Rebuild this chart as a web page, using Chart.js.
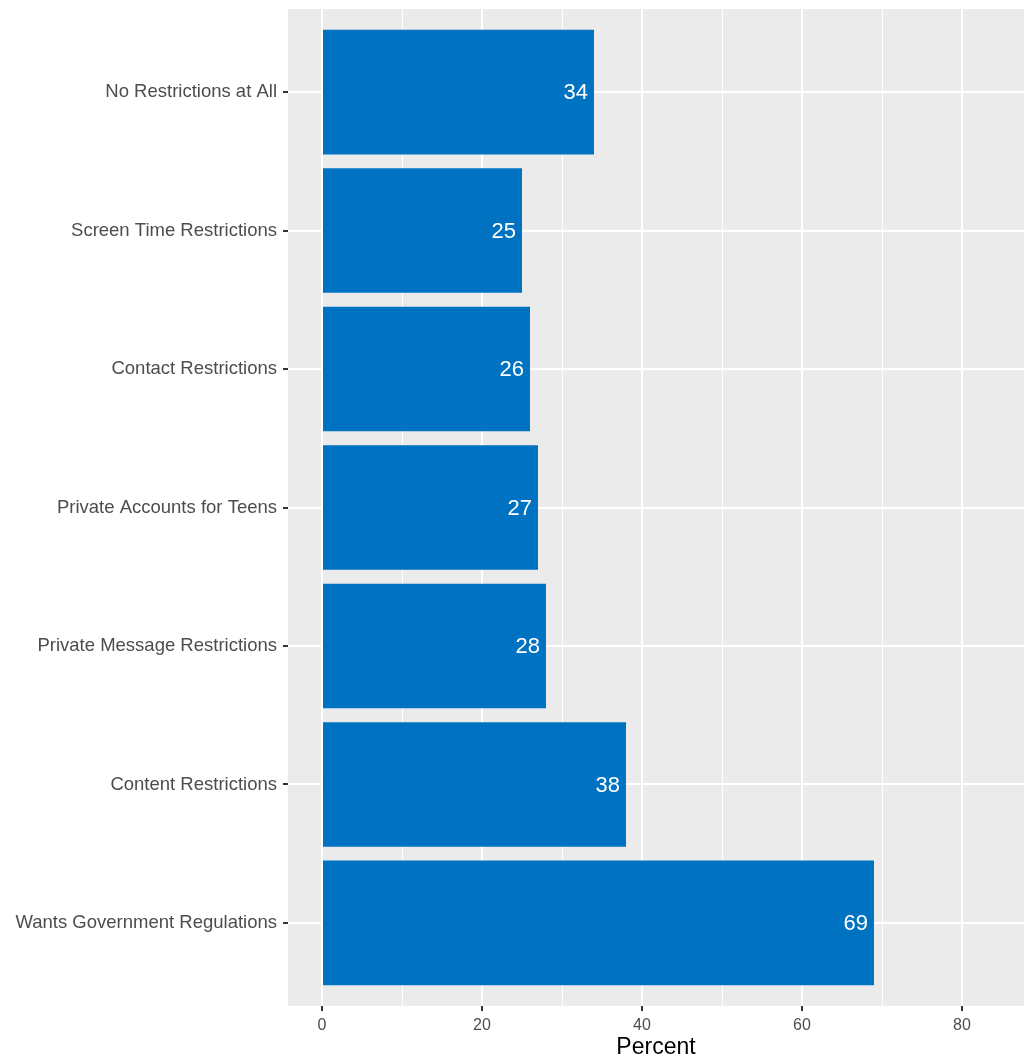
<!DOCTYPE html>
<html>
<head>
<meta charset="utf-8">
<style>
  html, body { margin: 0; padding: 0; background: #ffffff; }
  #wrap { position: relative; width: 1024px; height: 1061px; }
</style>
<script src="https://cdn.jsdelivr.net/npm/chart.js@4/dist/chart.umd.min.js"></script>
</head>
<body>
<div id="wrap"><canvas id="c" width="1024" height="1061"></canvas></div>
<script>
const categories = [
  "No Restrictions at All",
  "Screen Time Restrictions",
  "Contact Restrictions",
  "Private Accounts for Teens",
  "Private Message Restrictions",
  "Content Restrictions",
  "Wants Government Regulations"
];
const percents = [34, 25, 26, 27, 28, 38, 69];
const xTickValues = [0, 10, 20, 30, 40, 50, 60, 70, 80];
const xLabeled = [0, 20, 40, 60, 80];

const FONT = "'Liberation Sans', Arial, Helvetica, sans-serif";

const panelBg = {
  id: 'panelBg',
  beforeDraw(chart) {
    const a = chart.chartArea, ctx = chart.ctx;
    ctx.save();
    ctx.fillStyle = '#EBEBEB';
    ctx.fillRect(a.left, a.top, a.right - a.left, a.bottom - a.top);
    ctx.restore();
  }
};

const barLabels = {
  id: 'barLabels',
  afterDatasetsDraw(chart) {
    const ctx = chart.ctx;
    const meta = chart.getDatasetMeta(0);
    ctx.save();
    ctx.fillStyle = '#ffffff';
    ctx.font = "22px " + FONT;
    ctx.textAlign = 'right';
    ctx.textBaseline = 'middle';
    meta.data.forEach((bar, i) => {
      ctx.fillText(String(percents[i]), bar.x - 6, bar.y + 1);
    });
    ctx.restore();
  }
};

function zeroPad(s) { s.paddingTop = 0; s.paddingBottom = 0; s.paddingLeft = 0; s.paddingRight = 0; }

new Chart(document.getElementById('c'), {
  type: 'bar',
  data: {
    datasets: [{
      data: percents.map((v, i) => ({ x: v, y: i })),
      backgroundColor: '#0072C2',
      borderWidth: 0,
      barPercentage: 0.9,
      categoryPercentage: 1.0
    }]
  },
  options: {
    indexAxis: 'y',
    responsive: false,
    animation: false,
    layout: { padding: { top: 9, right: 0, left: 0, bottom: 0 } },
    plugins: { legend: { display: false }, tooltip: { enabled: false } },
    scales: {
      x: {
        type: 'linear',
        min: -4.25,
        max: 87.75,
        offset: false,
        afterBuildTicks: s => { s.ticks = xTickValues.map(v => ({ value: v })); },
        afterFit: s => { s.height = 55; zeroPad(s); },
        border: { display: false },
        grid: {
          offset: false,
          color: '#ffffff',
          lineWidth: c => (xLabeled.includes(c.tick && c.tick.value) ? 2 : 1),
          drawTicks: true,
          tickLength: 5,
          tickColor: c => (xLabeled.includes(c.tick && c.tick.value) ? '#333333' : 'rgba(0,0,0,0)'),
          tickWidth: 2
        },
        ticks: {
          autoSkip: false,
          maxRotation: 0,
          padding: 5,
          color: '#4D4D4D',
          font: { family: FONT, size: 16 },
          callback: v => (xLabeled.includes(v) ? String(v) : '')
        },
        title: {
          display: true,
          text: 'Percent',
          color: '#000000',
          font: { family: FONT, size: 23 },
          padding: { top: 3, bottom: 0 }
        }
      },
      y: {
        type: 'linear',
        reverse: true,
        offset: false,
        min: -0.6,
        max: categories.length - 1 + 0.6,
        afterBuildTicks: s => { s.ticks = categories.map((_, i) => ({ value: i })); },
        afterFit: s => { s.width = 288; zeroPad(s); },
        border: { display: false },
        grid: {
          offset: false,
          color: '#ffffff',
          lineWidth: 2,
          drawTicks: true,
          tickLength: 5,
          tickColor: '#333333',
          tickWidth: 2
        },
        ticks: {
          autoSkip: false,
          padding: 6,
          color: '#4D4D4D',
          font: { family: FONT, size: 18.5 },
          callback: v => categories[v]
        }
      }
    }
  },
  plugins: [panelBg, barLabels]
});
</script>
</body>
</html>
